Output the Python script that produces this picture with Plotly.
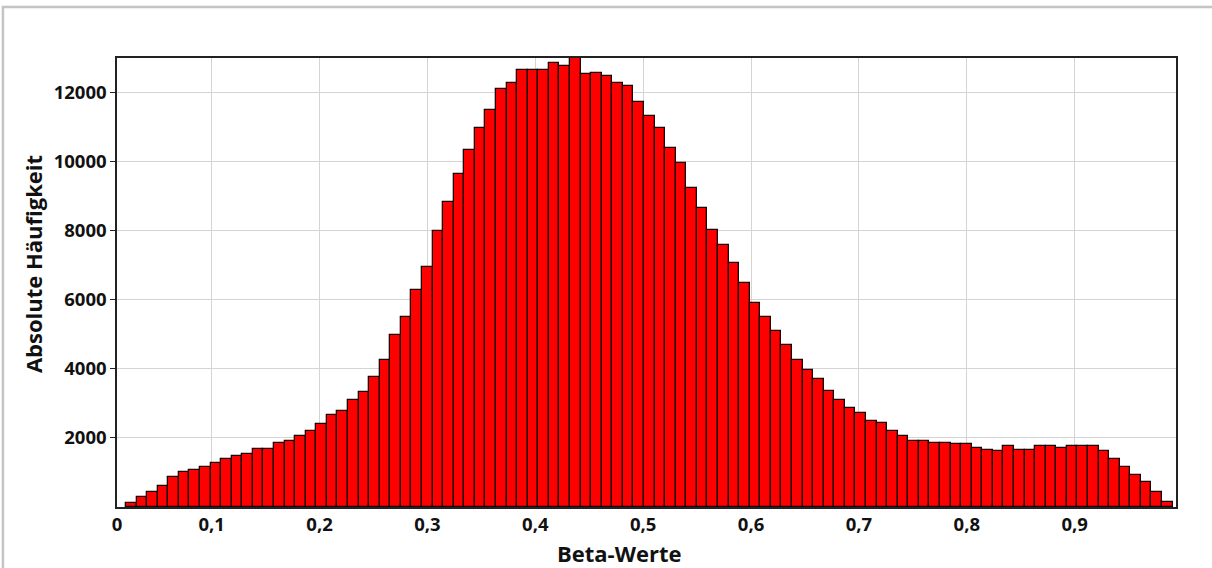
import plotly.graph_objects as go

# Histogram of beta values: 99 bins, counts
BIN_START = 0.02056
BIN_WIDTH = 0.0098
counts = [
    120, 290, 430, 620, 860, 1010, 1060, 1150, 1285, 1380,
    1475, 1530, 1665, 1665, 1865, 1910, 2050, 2200, 2400, 2675,
    2775, 3095, 3340, 3770, 4250, 4970, 5495, 6295, 6960, 8005,
    8825, 9635, 10345, 10962, 11493, 12095, 12290, 12665, 12665, 12665,
    12860, 12780, 13000, 12545, 12580, 12485, 12290, 12193, 11715, 11335,
    10962, 10390, 9960, 9245, 8671, 8014, 7580, 7060, 6480, 5908,
    5495, 5105, 4677, 4246, 3957, 3716, 3345, 3097, 2855, 2719,
    2483, 2429, 2188, 2043, 1903, 1903, 1855, 1855, 1830, 1820,
    1715, 1658, 1609, 1768, 1658, 1658, 1763, 1763, 1705, 1763,
    1763, 1763, 1618, 1377, 1154, 913, 720, 430, 140,
]
centers = [BIN_START + (i + 0.5) * BIN_WIDTH for i in range(len(counts))]

X_RANGE = [0.01223, 0.99393]
Y_RANGE = [0, 13000]
x_tickvals = [X_RANGE[0], 0.1, 0.2, 0.3, 0.4, 0.5, 0.6, 0.7, 0.8, 0.9]
x_ticktext = ["0", "0,1", "0,2", "0,3", "0,4", "0,5", "0,6", "0,7", "0,8", "0,9"]
y_tickvals = [2000, 4000, 6000, 8000, 10000, 12000]
y_ticktext = ["2000", "4000", "6000", "8000", "10000", "12000"]
x_title = "Beta-Werte"
y_title = "Absolute Häufigkeit"

FONT = "Open Sans, Noto Sans, sans-serif"
TITLE_FONT = dict(family=FONT, size=22, weight="bold", color="#111111")
TICK_FONT = dict(family=FONT, size=18.5, weight="bold", color="#111111")

fig = go.Figure()
fig.add_trace(go.Bar(
    x=centers,
    y=counts,
    width=BIN_WIDTH,
    marker=dict(color="#ff0000", line=dict(color="#1a0000", width=1.3)),
    showlegend=False,
))

fig.update_layout(
    width=1212,
    height=568,
    margin=dict(l=117, r=36, t=58, b=61),
    paper_bgcolor="white",
    plot_bgcolor="white",
    bargap=0,
    font=dict(family=FONT, color="black"),
    xaxis=dict(
        range=X_RANGE,
        tickvals=x_tickvals,
        ticktext=x_ticktext,
        showgrid=True,
        gridcolor="#d4d4d4",
        gridwidth=1,
        showline=True,
        linecolor="#222222",
        linewidth=1.5,
        mirror=True,
        ticks="",
        tickfont=TICK_FONT,
        zeroline=False,
    ),
    yaxis=dict(
        range=Y_RANGE,
        tickvals=y_tickvals,
        ticktext=y_ticktext,
        showgrid=True,
        gridcolor="#d4d4d4",
        gridwidth=1,
        showline=True,
        linecolor="#222222",
        linewidth=1.5,
        mirror=True,
        ticks="outside",
        ticklen=5,
        tickcolor="#222222",
        tickfont=TICK_FONT,
        zeroline=False,
    ),
    annotations=[
        dict(text=x_title, xref="paper", yref="paper", x=0.4745, y=-0.1035,
             xanchor="center", yanchor="middle", showarrow=False, font=TITLE_FONT),
        dict(text=y_title, xref="paper", yref="paper", x=-0.0793, y=0.541,
             xanchor="center", yanchor="middle", textangle=-90, showarrow=False,
             font=TITLE_FONT),
    ],
    shapes=[
        dict(type="path", xref="paper", yref="paper",
             path="M -0.1077,-0.2 L -0.1077,1.1136 L 1.2,1.1136",
             line=dict(color="#c4c4c4", width=2.5), layer="above"),
    ],
)

fig.write_html("out.html")
